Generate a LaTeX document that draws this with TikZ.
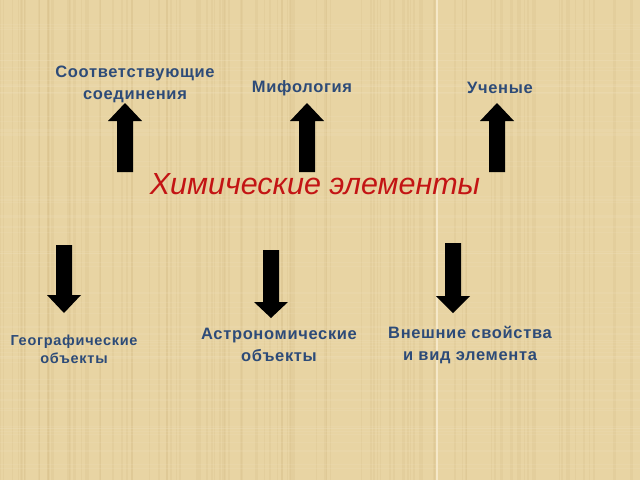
\documentclass[tikz,border=0pt]{standalone}
\usepackage{fontspec}
\setmainfont{Liberation Sans}
\definecolor{paper}{RGB}{232,212,163}
\definecolor{paperdark}{RGB}{200,172,115}
\definecolor{paperlight}{RGB}{245,232,200}
\definecolor{lbl}{RGB}{45,75,120}
\definecolor{ttl}{RGB}{195,20,20}
\begin{document}
\begin{tikzpicture}[x=1pt,y=-1pt,
  lblA/.style={font=\bfseries\fontsize{16.5}{22}\selectfont\addfontfeatures{LetterSpace=4},text=lbl,align=center,inner sep=0pt},
  lblB/.style={font=\bfseries\fontsize{14.5}{18}\selectfont\addfontfeatures{LetterSpace=5},text=lbl,align=center,inner sep=0pt},
  ttlstyle/.style={font=\itshape\fontsize{30.5}{34}\selectfont,text=ttl,inner sep=0pt},
  blockarrow/.style={fill=black,draw=none}]
\useasboundingbox (0,0) rectangle (640,480);
\fill[paper] (0,0) rectangle (640,480);
% texture
\pgfmathsetseed{7}
\foreach \i in {1,...,110}{
  \pgfmathsetmacro{\xx}{rnd*640}
  \pgfmathsetmacro{\ww}{0.5+rnd*2}
  \fill[paperdark,opacity=0.13] (\xx,0) rectangle (\xx+\ww,480);
}
\foreach \i in {1,...,70}{
  \pgfmathsetmacro{\yy}{rnd*480}
  \pgfmathsetmacro{\ww}{0.4+rnd*1}
  \fill[paperlight,opacity=0.15] (0,\yy) rectangle (640,\yy+\ww);
}
\fill[paperlight] (435.5,0) rectangle (437.5,480);

% labels
\node[lblA] (sootv) at (135,84) {Соответствующие\\соединения};
\node[lblA] (mif) at (302,88) {Мифология};
\node[lblA] (uch) at (500,88) {Ученые};
\node[ttlstyle] (title) at (315,184) {Химические элементы};
\node[lblB] (geo) at (74,349) {Географические\\объекты};
\node[lblA] (astro) at (279,345) {Астрономические\\объекты};
\node[lblA] (vnesh) at (470,345) {Внешние свойства\\и вид элемента};

% up arrows
\foreach \cx/\nm in {125/a1,307/a2,497/a3}{
  \coordinate (\nm) at (\cx,103);
  \fill[blockarrow] (\cx-8,172) -- (\cx-8,121) -- (\cx-17,121) -- (\cx,103)
     -- (\cx+17,121) -- (\cx+8,121) -- (\cx+8,172) -- cycle;
}
% down arrows
\foreach \cx/\top/\base/\tip/\nm in {64/245/295/313/d1,271/250/302/318/d2,453/243/296/313/d3}{
  \coordinate (\nm) at (\cx,\tip);
  \fill[blockarrow] (\cx-8,\top) -- (\cx-8,\base) -- (\cx-17,\base) -- (\cx,\tip)
     -- (\cx+17,\base) -- (\cx+8,\base) -- (\cx+8,\top) -- cycle;
}
\end{tikzpicture}
\end{document}
